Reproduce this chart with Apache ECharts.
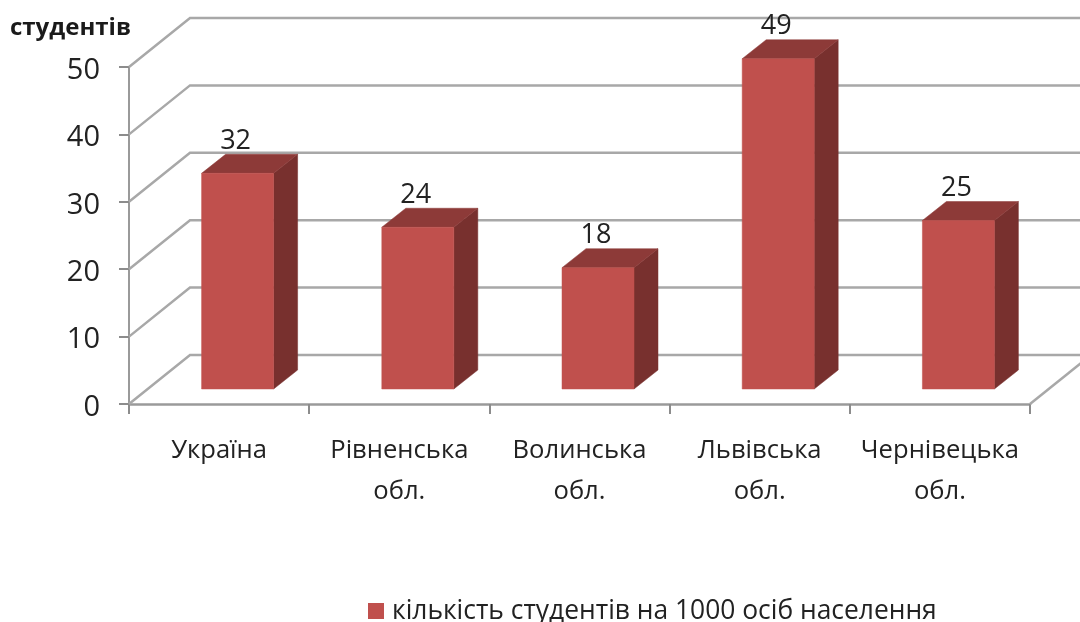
<!DOCTYPE html>
<html>
<head>
<meta charset="utf-8">
<style>html,body{margin:0;padding:0;background:#fff}#c{width:1080px;height:622px}</style>
<script src="https://cdn.jsdelivr.net/npm/echarts@6/dist/echarts.min.js"></script>
</head>
<body>
<div id="c"></div>
<script>
const categories = ['Україна', 'Рівненська\nобл.', 'Волинська\nобл.', 'Львівська\nобл.', 'Чернівецька\nобл.'];
const values = [32, 24, 18, 49, 25];
const gridTicks = [0, 10, 20, 30, 40, 50];
const seriesName = 'кількість студентів на 1000 осіб населення';
const axisTitle = 'студентів';

const FONT = '"Open Sans", sans-serif';
const LINE = '#a8a8a8';
const WALL = { dx: 61, dy: -49 };
const BAR = { cx: 18.5, halfW: 36, lift: -15, dx: 24, dy: -19 };
const C_FRONT = '#c0504d', C_TOP = '#8d3a38', C_SIDE = '#78302e';

const chart = echarts.init(document.getElementById('c'), null, { renderer: 'canvas' });

function poly(points, fill, z2) {
  return { type: 'polygon', shape: { points }, z2: z2 || 0,
    style: { fill, stroke: fill, lineWidth: 0.5 } };
}

chart.setOption({
  animation: false,
  backgroundColor: '#fff',
  textStyle: { fontFamily: FONT },
  title: { text: axisTitle, left: 5, top: 11,
    textStyle: { fontFamily: FONT, fontWeight: 'bold', fontSize: 24, color: '#1a1a1a' } },
  grid: { left: 129, right: 50, top: 67, bottom: 218, containLabel: false },
  legend: { show: true, data: [{ name: seriesName, icon: 'rect', itemStyle: { color: C_FRONT } }],
    left: 363, top: 593, itemWidth: 16, itemHeight: 16, itemGap: 8,
    textStyle: { fontFamily: FONT, fontSize: 26.4, color: '#222', padding: [0, 0, 0, 3] } },
  xAxis: { type: 'category', data: categories, boundaryGap: true,
    axisLine: { lineStyle: { color: '#9a9a9a', width: 2.5 } },
    axisTick: { show: true, alignWithLabel: false, length: 10, lineStyle: { color: '#8c8c8c', width: 2 } },
    axisLabel: { interval: 0, margin: 26, fontFamily: FONT, fontSize: 25.6, lineHeight: 41, color: '#222' } },
  yAxis: { type: 'value', min: 0, max: 50, interval: 10,
    splitLine: { show: false },
    axisLine: { show: true, lineStyle: { color: '#9a9a9a', width: 2 } },
    axisTick: { show: true, length: 10, lineStyle: { color: '#8c8c8c', width: 2 } },
    axisLabel: { margin: 29, fontFamily: FONT, fontSize: 29, color: '#222', verticalAlign: 'top', lineHeight: 7 } },
  series: [
    { type: 'custom', name: 'walls', silent: true, z: 1, clip: false,
      data: gridTicks.map(v => [0, v]),
      encode: { x: 0, y: 1 },
      renderItem(params, api) {
        const v = api.value(1);
        const p = api.coord([0, v]);
        const x0 = params.coordSys.x;
        const y0 = p[1];
        const W = api.getWidth();
        const children = [{ type: 'polyline',
          shape: { points: [[x0, y0], [x0 + WALL.dx, y0 + WALL.dy], [W + 5, y0 + WALL.dy]] },
          style: { fill: null, stroke: LINE, lineWidth: 2.5 } }];
        if (v === 0) {
          const xr = x0 + params.coordSys.width;
          children.push({ type: 'line',
            shape: { x1: xr, y1: y0, x2: xr + WALL.dx, y2: y0 + WALL.dy },
            style: { stroke: LINE, lineWidth: 2.5 } });
        }
        return { type: 'group', children };
      } },
    { type: 'custom', name: seriesName, z: 3, clip: false,
      itemStyle: { color: C_FRONT },
      data: values.map((v, i) => [i, v]),
      encode: { x: 0, y: 1 },
      renderItem(params, api) {
        const i = api.value(0), v = api.value(1);
        const top = api.coord([i, v]);
        const base = api.coord([i, 0]);
        const xl = top[0] + BAR.cx - BAR.halfW, xr = top[0] + BAR.cx + BAR.halfW;
        const yt = top[1] + BAR.lift, yb = base[1] + BAR.lift;
        const d = BAR;
        return { type: 'group', children: [
          poly([[xr, yt], [xr + d.dx, yt + d.dy], [xr + d.dx, yb + d.dy], [xr, yb]], C_SIDE),
          poly([[xl, yt], [xl + d.dx, yt + d.dy], [xr + d.dx, yt + d.dy], [xr, yt]], C_TOP),
          poly([[xl, yt], [xr, yt], [xr, yb], [xl, yb]], C_FRONT),
          { type: 'text', z2: 5, style: { text: String(v), x: (xl + xr) / 2 - 2, y: yt - 32,
            align: 'center', verticalAlign: 'middle', fontFamily: FONT, fontSize: 27, fill: '#222' } }
        ] };
      } }
  ]
});
</script>
</body>
</html>
